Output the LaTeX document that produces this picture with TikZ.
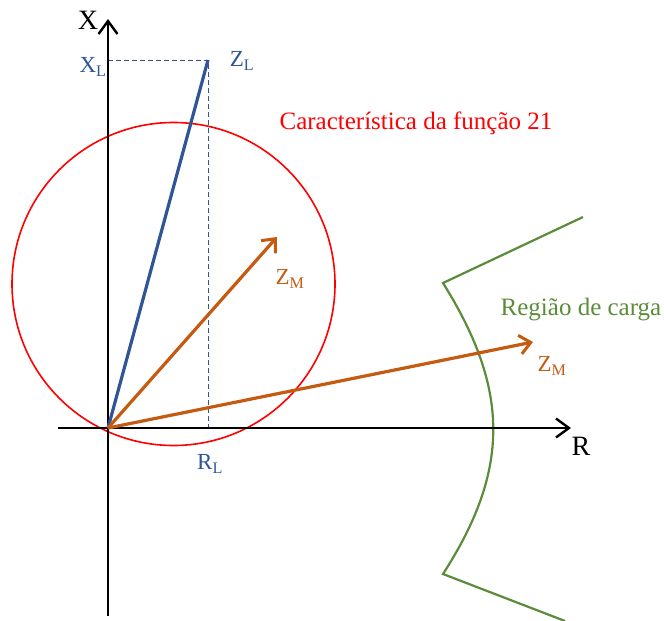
\documentclass[tikz,border=0pt]{standalone}
\usepackage{fontspec}
\setmainfont{Liberation Serif}
\usetikzlibrary{positioning, arrows.meta}
\definecolor{zblue}{RGB}{47,85,151}
\definecolor{zorange}{RGB}{197,90,17}
\definecolor{zgreen}{RGB}{90,140,58}
\tikzset{
  axis/.style={draw=black, line width=2.4pt, -{Straight Barb[length=13pt, width=19pt, line width=2.4pt]}},
  imp/.style={draw=zorange, line width=3.2pt, -{Straight Barb[length=11pt, width=19pt, line width=3pt]}},
  proj/.style={draw=zblue, dash pattern=on 5pt off 3pt, line width=1pt},
  lbl/.style={inner sep=1pt, font=\fontsize{23}{27}\selectfont},
  big/.style={inner sep=1pt, font=\fontsize{25}{30}\selectfont},
}
\begin{document}
\begin{tikzpicture}[x=1pt, y=-1pt]
  \useasboundingbox (0,0) rectangle (664,621);
  \coordinate (O) at (108,428);
  \coordinate (xend) at (571,428);
  \coordinate (xbeg) at (58,428);
  \coordinate (yend) at (108,19);
  \coordinate (ybeg) at (108,616);
  \coordinate (zl) at (208,60);
  \coordinate (xlp) at (108,60);
  \coordinate (rlp) at (208,428);
  \coordinate (zm1) at (277,237);
  \coordinate (zm2) at (533,342);
  % circle of the 21 function
  \draw[red, line width=1.6pt] (173.5,284) circle[radius=161.5];
  % load region
  \coordinate (g1) at (583,217);
  \coordinate (g2) at (443,283);
  \coordinate (g3) at (443,574);
  \coordinate (g4) at (565,621);
  \draw[zgreen, line width=2.2pt] (g1) -- (g2) .. controls (510,390) and (510,470) .. (g3) -- (g4);
  \draw[proj] (xlp) -- (zl) -- (rlp);
  \draw[axis] (xbeg) -- (xend);
  \draw[axis] (ybeg) -- (yend);
  \draw[zblue, line width=3.2pt] (O) -- (zl);
  \draw[imp] (O) -- (zm1);
  \draw[imp] (O) -- (zm2);
  \node[lbl, font=\fontsize{28}{32}\selectfont] (xax) at (88,20) {X};
  \node[lbl, font=\fontsize{28}{32}\selectfont] (rax) at (581,446) {R};
  \node[lbl, text=zblue] (xl) at (93,67) {X\textsubscript{L}};
  \node[lbl, text=zblue] (rl) at (210,464) {R\textsubscript{L}};
  \node[lbl, text=zblue] (zlt) at (242,61) {Z\textsubscript{L}};
  \node[lbl, text=zorange] (zm1t) at (290,279) {Z\textsubscript{M}};
  \node[lbl, text=zorange] (zm2t) at (552,366) {Z\textsubscript{M}};
  \node[big, text=red] (tit) at (416,123) {Característica da função 21};
  \node[big, text=zgreen] (reg) at (581,310) {Região de carga};
\end{tikzpicture}
\end{document}
